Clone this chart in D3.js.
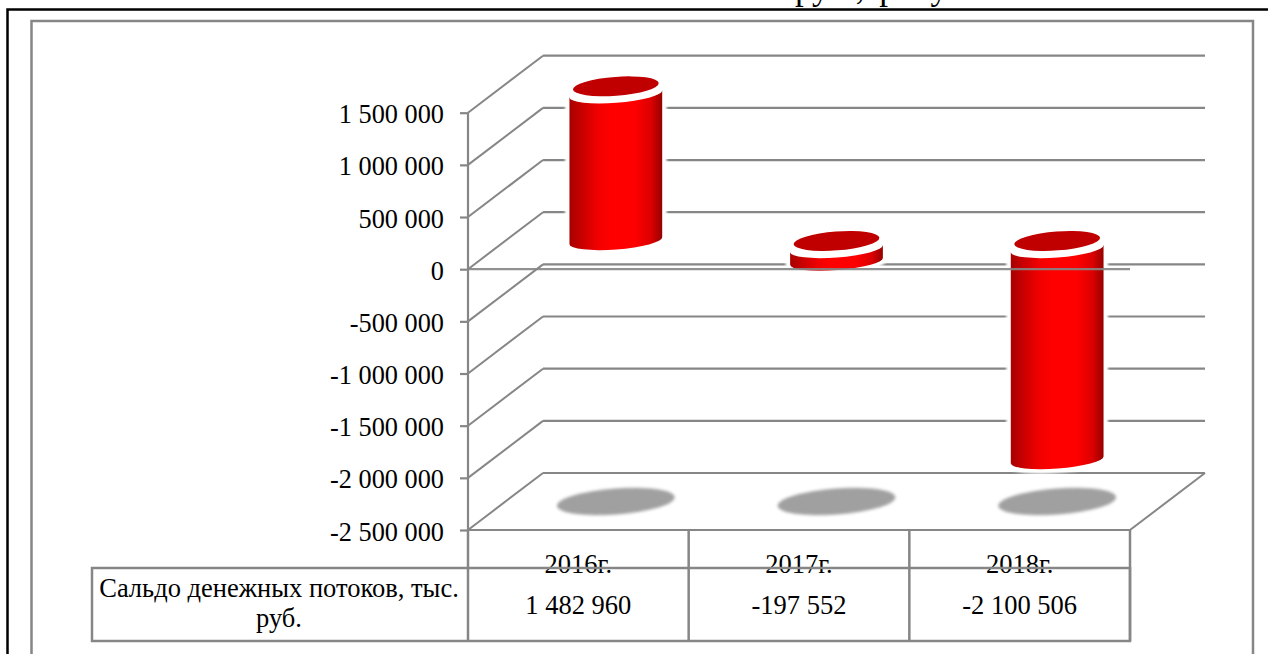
<!DOCTYPE html>
<html>
<head>
<meta charset="utf-8">
<script src="https://cdn.jsdelivr.net/npm/d3@7"></script>
<style>
  html, body { margin: 0; padding: 0; background: #fff; overflow: hidden; }
  svg { display: block; }
  text { font-family: "Liberation Serif", serif; fill: #000; }
  .axis path { display: none; }
  .axis line { stroke: #868686; stroke-width: 2.2; }
  .axis text { font-size: 26.3px; }
  .cell { font-size: 26.5px; text-anchor: middle; }
</style>
</head>
<body>
<div id="chart"></div>
<script>
var categories = ['2016г.', '2017г.', '2018г.'];
var values = [1482960, -197552, -2100506];
var tick_values = [1500000, 1000000, 500000, 0, -500000, -1000000, -1500000, -2000000, -2500000];
var row_label = ['Сальдо денежных потоков, тыс.', 'руб.'];
var title_text = 'руб., рисунок';

var width = 1268, height = 659;
var grey = '#868686';

var svg = d3.select('#chart').append('svg')
  .attr('width', width)
  .attr('height', height);

var defs = svg.append('defs');

var grad = defs.append('linearGradient').attr('id', 'cyl');
grad.append('stop').attr('offset', '0%').attr('stop-color', '#a80000');
grad.append('stop').attr('offset', '30%').attr('stop-color', '#f00000');
grad.append('stop').attr('offset', '45%').attr('stop-color', '#ff0000');
grad.append('stop').attr('offset', '70%').attr('stop-color', '#ff0000');
grad.append('stop').attr('offset', '88%').attr('stop-color', '#dc0000');
grad.append('stop').attr('offset', '100%').attr('stop-color', '#960000');

defs.append('filter').attr('id', 'soft')
  .attr('x', '-20%').attr('y', '-50%').attr('width', '140%').attr('height', '200%')
  .append('feGaussianBlur').attr('stdDeviation', 1.5);

defs.append('filter').attr('id', 'glow')
  .attr('x', '-20%').attr('y', '-20%').attr('width', '140%').attr('height', '140%')
  .append('feGaussianBlur').attr('stdDeviation', 0.8);

// scales, front plane of the 3d box
var y = d3.scaleLinear().domain([-2500000, 1500000]).range([530, 112.7]);
var x = d3.scaleBand().domain(categories).range([468, 1130]);

// depth of the box, the walls sit this far back from the front plane
var depth_x = 75, depth_y = -57;

var fmt = d3.formatLocale({decimal: ',', thousands: ' ', grouping: [3], currency: ['', ''], minus: '-'}).format(',d');

// frames of the page and chart
svg.append('path')
  .attr('d', 'M1268,9.5H7.5V654')
  .attr('fill', 'none').attr('stroke', '#000').attr('stroke-width', 2.5);
svg.append('path')
  .attr('d', 'M31.5,654V21H1253V654')
  .attr('fill', 'none').attr('stroke', grey).attr('stroke-width', 2.5);

// title runs off the top of the picture
svg.append('text')
  .attr('x', 795).attr('y', -1.5)
  .style('font-size', '35px')
  .style('word-spacing', '6px')
  .text(title_text);

// back wall lines and side wall diagonals
svg.selectAll('.grid')
  .data(tick_values)
  .enter().append('line')
  .attr('class', 'grid')
  .attr('x1', 468 + depth_x).attr('x2', x.range()[1] + depth_x)
  .attr('y1', function(d) { return y(d) + depth_y; })
  .attr('y2', function(d) { return y(d) + depth_y; })
  .attr('stroke', grey).attr('stroke-width', 2.2);

svg.selectAll('.diag')
  .data(tick_values)
  .enter().append('line')
  .attr('class', 'diag')
  .attr('x1', 468).attr('x2', 468 + depth_x)
  .attr('y1', function(d) { return y(d); })
  .attr('y2', function(d) { return y(d) + depth_y; })
  .attr('stroke', grey).attr('stroke-width', 2);

// floor right side
svg.append('line')
  .attr('x1', x.range()[1]).attr('x2', x.range()[1] + depth_x)
  .attr('y1', y(-2500000)).attr('y2', y(-2500000) + depth_y)
  .attr('stroke', grey).attr('stroke-width', 2);

var mid_x = depth_x / 2, mid_y = depth_y / 2;
var tilt = -4.3;

// shadows on the floor
svg.selectAll('.shadow')
  .data(categories)
  .enter().append('ellipse')
  .attr('class', 'shadow')
  .attr('rx', 59).attr('ry', 13)
  .attr('transform', function(d) {
    return 'translate(' + (x(d) + x.bandwidth() / 2 + mid_x) + ',' + (y(-2500000) + mid_y) + ') rotate(' + tilt + ')';
  })
  .attr('fill', '#a0a0a0')
  .attr('filter', 'url(#soft)');

// cylinders
var rx = 46.5, ry = 8.8;

function cylPath(d, i) {
  var cx = x(categories[i]) + x.bandwidth() / 2 + mid_x;
  var top = y(Math.max(d, 0)) + mid_y + 8;
  var bottom = y(Math.min(d, 0)) + mid_y;
  var a = tilt * Math.PI / 180;
  var ex = rx * Math.cos(a), ey = rx * Math.sin(a);
  return 'M' + (cx - ex) + ',' + (top - ey)
    + 'L' + (cx - ex) + ',' + (bottom - ey)
    + 'A' + rx + ',' + ry + ' ' + tilt + ' 0 0 ' + (cx + ex) + ',' + (bottom + ey)
    + 'L' + (cx + ex) + ',' + (top + ey)
    + 'Z';
}

var bars = svg.selectAll('.bar')
  .data(values)
  .enter().append('g')
  .attr('class', 'bar');

bars.append('path')
  .attr('d', cylPath)
  .attr('fill', '#fff').attr('stroke', '#fff').attr('stroke-width', 9)
  .attr('stroke-linejoin', 'round')
  .attr('filter', 'url(#glow)');

bars.append('path')
  .attr('d', cylPath)
  .attr('fill', 'url(#cyl)');

function capTransform(d, i, shift) {
  var cx = x(categories[i]) + x.bandwidth() / 2 + mid_x;
  return 'translate(' + cx + ',' + (y(Math.max(d, 0)) + mid_y + shift) + ') rotate(' + tilt + ')';
}

bars.append('ellipse')
  .attr('rx', rx).attr('ry', ry)
  .attr('transform', function(d, i) { return capTransform(d, i, 8); })
  .attr('fill', '#fff');

bars.append('ellipse')
  .attr('rx', rx + 0.5).attr('ry', ry + 1.5)
  .attr('transform', function(d, i) { return capTransform(d, i, 4); })
  .attr('fill', '#fff');

bars.append('ellipse')
  .attr('rx', 43).attr('ry', 9.4)
  .attr('transform', function(d, i) { return capTransform(d, i, 0.3); })
  .attr('fill', '#c00000');

// front zero line crosses over the last cylinder
svg.append('line')
  .attr('x1', 468).attr('x2', x.range()[1])
  .attr('y1', y(0)).attr('y2', y(0))
  .attr('stroke', grey).attr('stroke-width', 2.2)
  .attr('opacity', 0.9);

// floor front edge and value axis
svg.append('line')
  .attr('x1', 468).attr('x2', x.range()[1])
  .attr('y1', y(-2500000)).attr('y2', y(-2500000))
  .attr('stroke', grey).attr('stroke-width', 2.2);

var yAxis = d3.axisLeft(y)
  .tickValues(tick_values)
  .tickFormat(fmt)
  .tickSize(8)
  .tickPadding(16);

svg.append('g')
  .attr('class', 'axis')
  .attr('transform', 'translate(468,0)')
  .call(yAxis)
  .selectAll('text')
    .attr('dy', '.38em');

svg.append('line')
  .attr('x1', 468).attr('x2', 468)
  .attr('y1', y(1500000)).attr('y2', y(-2500000))
  .attr('stroke', grey).attr('stroke-width', 2.2);

// category labels sit across the table line, like in the original
svg.selectAll('.cat')
  .data(categories)
  .enter().append('text')
  .attr('class', 'cell')
  .attr('x', function(d) { return x(d) + x.bandwidth() / 2; })
  .attr('y', 572.5)
  .text(function(d) { return d; });

// data table
var table_top = 568, table_bottom = 641, table_left = 92;

svg.append('rect')
  .attr('x', table_left).attr('y', table_top)
  .attr('width', x.range()[1] - table_left).attr('height', table_bottom - table_top)
  .attr('fill', 'none').attr('stroke', grey).attr('stroke-width', 2.5);

svg.selectAll('.col')
  .data(categories.concat(['end']))
  .enter().append('line')
  .attr('class', 'col')
  .attr('x1', function(d, i) { return x.range()[0] + i * x.bandwidth(); })
  .attr('x2', function(d, i) { return x.range()[0] + i * x.bandwidth(); })
  .attr('y1', y(-2500000)).attr('y2', table_bottom)
  .attr('stroke', grey).attr('stroke-width', 2.5);

svg.selectAll('.val')
  .data(values)
  .enter().append('text')
  .attr('class', 'cell')
  .attr('x', function(d, i) { return x(categories[i]) + x.bandwidth() / 2; })
  .attr('y', 613.5)
  .text(function(d) { return fmt(d); });

svg.selectAll('.rowlabel')
  .data(row_label)
  .enter().append('text')
  .attr('class', 'cell')
  .attr('x', 279)
  .attr('y', function(d, i) { return 597 + i * 29.5; })
  .text(function(d) { return d; });
</script>
</body>
</html>
